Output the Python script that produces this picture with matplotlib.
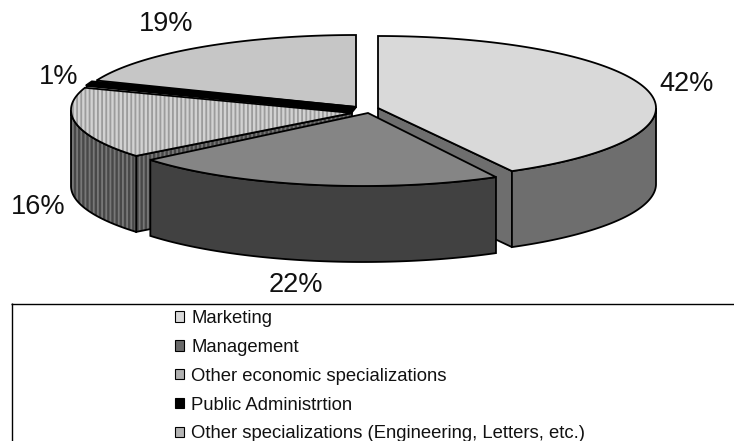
import numpy as np
import matplotlib
matplotlib.use("Agg")
import matplotlib.pyplot as plt
from matplotlib.patches import Polygon, Patch

plt.rcParams['font.family'] = ['Liberation Sans', 'DejaVu Sans']
plt.rcParams['hatch.linewidth'] = 1.3

categories = ["Marketing", "Management", "Other economic specializations",
              "Public Administrtion", "Other specializations (Engineering, Letters, etc.)"]
values = [42, 22, 16, 1, 19]
pct_labels = ["42%", "22%", "16%", "1%", "19%"]

# styling / layout
centers = [(378, 108), (363, 114), (355, 110), (356, 108), (356, 107)]
apexes = [[(378, 108)], [(368, 113)], [(352, 113)], [(356, 107), (352, 112)], [(356, 107)]]
radii = [278, 276, 284, 284, 279]
edge_lw = [1.3, 1.3, 1.3, 1.5, 1.3]
RY = 72
DEPTH = 76
top_col = ['#d9d9d9', '#858585', '#d2d2d2', '#000000', '#c6c6c6']
wall_col = ['#6e6e6e', '#414141', '#484848', '#000000', '#555555']
top_hatch = [None, None, '||||', None, None]
wall_hatch = [None, None, '||||', None, None]
top_hatch_col = ['#d9d9d9', '#858585', '#9c9c9c', '#000000', '#c6c6c6']
wall_hatch_col = ['#6e6e6e', '#414141', '#787878', '#000000', '#555555']
label_pos = [(687, 84), (296, 285), (38, 207), (59, 77), (166, 24)]
draw_order = [4, 3, 2, 0, 1]

fig = plt.figure(figsize=(7.34, 4.41), dpi=100)
ax = fig.add_axes([0, 0, 1, 1])
ax.set_xlim(0, 734)
ax.set_ylim(441, 0)
ax.axis('off')

fractions = np.array(values) / sum(values)
ends = 90 - 360 * np.cumsum(fractions)
starts = np.r_[90, ends[:-1]]


def pt(c, rx, deg, dz=0):
    t = np.radians(deg)
    return np.c_[c[0] + rx * np.cos(t), c[1] - RY * np.sin(t) + dz]


def poly(xy, fc, hatch=None, hc='k', z=1, lw=1.3):
    if hatch:
        ax.add_patch(Polygon(xy, closed=True, facecolor=fc, edgecolor=hc, hatch=hatch, lw=0, zorder=z))
        ax.add_patch(Polygon(xy, closed=True, fill=False, edgecolor='k', lw=lw, zorder=z))
    else:
        ax.add_patch(Polygon(xy, closed=True, facecolor=fc, edgecolor='k', lw=lw, zorder=z))


for z, i in enumerate(draw_order):
    c, rx, ap = centers[i], radii[i], apexes[i]
    a0, a1 = starts[i], ends[i]
    # radial wall facing the viewer, then the outer front wall
    if i in (0, 2):
        corner = pt(c, rx, a1 if i == 0 else a0)[0]
        w = np.array([ap[0], corner, corner + [0, DEPTH], [ap[0][0], ap[0][1] + DEPTH]])
        poly(w, wall_col[i], wall_hatch[i], wall_hatch_col[i], z=10 * z + 1)
    lo, hi = max(min(a0, a1), -180), min(max(a0, a1), 0)
    if i in (0, 1, 2):
        arc = np.linspace(hi, lo, 80)
        w = np.vstack([pt(c, rx, arc), pt(c, rx, arc[::-1], DEPTH)])
        poly(w, wall_col[i], wall_hatch[i], wall_hatch_col[i], z=10 * z + 2)
    arc = np.linspace(a0, a1, 120)
    top = np.vstack([ap, pt(c, rx, arc)])
    poly(top, top_col[i], top_hatch[i], top_hatch_col[i], z=10 * z + 3, lw=edge_lw[i])

for lab, (x, y) in zip(pct_labels, label_pos):
    ax.text(x, y, lab, fontsize=19.5, ha='center', va='center', color='#111111')

# legend frame (cut off by the figure's lower and right edges)
ax.plot([11, 734], [303.5, 303.5], color='k', lw=1, solid_capstyle='butt')
ax.plot([11.5, 11.5], [303, 441], color='k', lw=1, solid_capstyle='butt')

handles = [Patch(facecolor=top_col[i], edgecolor='k', lw=0.8) for i in range(len(categories))]
handles[1] = Patch(facecolor='#6a6a6a', edgecolor='k', lw=0.8)
handles[2] = Patch(facecolor='#b0b0b0', edgecolor='k', lw=0.8)
handles[4] = Patch(facecolor='#b4b4b4', edgecolor='k', lw=0.8)
leg = ax.legend(handles, categories, loc='upper left', bbox_to_anchor=(175 / 734, 1 - 310 / 441),
                frameon=False, fontsize=13.35, labelspacing=0.64, handlelength=0.5, handleheight=0.5,
                handletextpad=0.38, borderpad=0, borderaxespad=0)
for t in leg.get_texts():
    t.set_color('#111111')

fig.savefig('out.png', dpi=100)
